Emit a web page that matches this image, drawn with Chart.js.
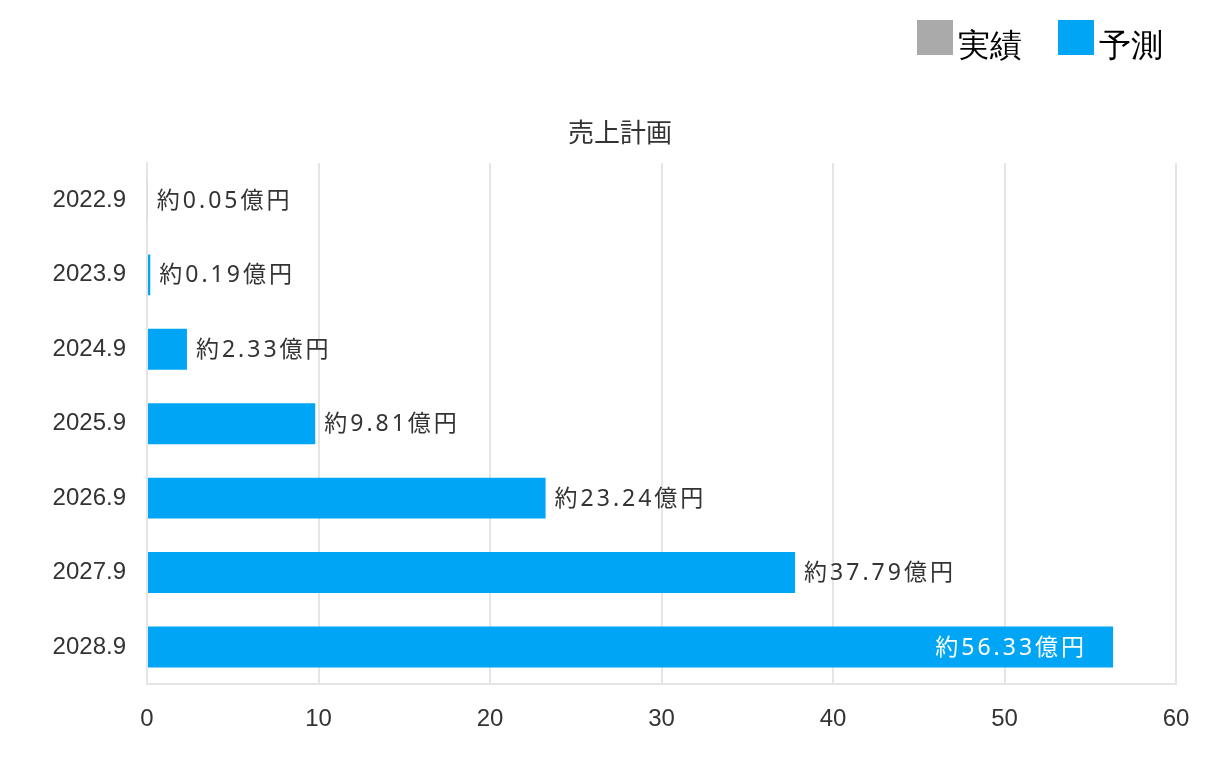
<!DOCTYPE html>
<html>
<head>
<meta charset="utf-8">
<script src="https://cdn.jsdelivr.net/npm/chart.js@4/dist/chart.umd.min.js"></script>
<style>
  html,body{margin:0;padding:0;background:#fff;}
  #wrap{position:relative;width:1231px;height:770px;}
  #legend{position:absolute;top:20px;left:917px;display:flex;align-items:flex-start;font-family:"Liberation Serif","DejaVu Serif",serif;font-size:32px;color:#000;}
  .item{display:flex;align-items:flex-start;margin-right:36px;}
  .box{width:36px;height:35px;margin-right:5px;}
  .item span{display:block;margin-top:7px;line-height:36px;}
</style>
</head>
<body>
<div id="wrap">
  <canvas id="c" width="1231" height="770"></canvas>
  <div id="legend"></div>
</div>
<script>
const categories = ["2022.9","2023.9","2024.9","2025.9","2026.9","2027.9","2028.9"];
const actualValues = [0.05, null, null, null, null, null, null];
const forecastValues = [null, 0.19, 2.33, 9.81, 23.24, 37.79, 56.33];
const seriesNames = ["実績","予測"];
const seriesColors = ["#aaaaaa","#00a6f5"];
const xTicks = [0,10,20,30,40,50,60];
const chartTitle = "売上計画";

// HTML legend
const leg = document.getElementById('legend');
seriesNames.forEach((n,i)=>{
  const it=document.createElement('div');it.className='item';
  const b=document.createElement('div');b.className='box';b.style.background=seriesColors[i];
  const t=document.createElement('span');t.textContent=n;
  it.appendChild(b);it.appendChild(t);leg.appendChild(it);
});

const labelPlugin = {
  id:'valueLabels',
  afterLayout(chart){
    // widen the y-axis label clip area so tick labels are not cut off
    chart.scales.y.left = 0;
  },
  afterDatasetsDraw(chart){
    const ctx=chart.ctx, area=chart.chartArea;
    ctx.save();
    ctx.font='23px "Noto Sans", "Noto Sans CJK JP", sans-serif';
    ctx.letterSpacing='3px';
    ctx.textBaseline='middle';
    chart.data.datasets.forEach((ds,di)=>{
      const meta=chart.getDatasetMeta(di);
      meta.data.forEach((bar,i)=>{
        const v=ds.data[i];
        if(v===null||v===undefined) return;
        const txt='約'+v.toFixed(2)+'億円';
        const w=ctx.measureText(txt).width;
        const y=bar.y+1;
        ctx.textAlign='left';
        if(bar.x+9+w>area.right){
          ctx.fillStyle='#ffffff';
          ctx.fillText(txt,bar.x-26-w,y);
        }else{
          ctx.fillStyle='#333333';
          ctx.fillText(txt,bar.x+9,y);
        }
      });
    });
    ctx.restore();
  }
};

new Chart(document.getElementById('c'),{
  type:'bar',
  data:{
    labels:categories,
    datasets:[
      {label:seriesNames[0],data:actualValues,backgroundColor:seriesColors[0],barPercentage:0.55,categoryPercentage:1},
      {label:seriesNames[1],data:forecastValues,backgroundColor:seriesColors[1],barPercentage:0.55,categoryPercentage:1}
    ]
  },
  options:{
    indexAxis:'y',
    responsive:false,
    animation:false,
    layout:{padding:{top:98,left:64,right:55,bottom:15}},
    plugins:{
      legend:{display:false},
      tooltip:{enabled:false},
      title:{display:true,text:chartTitle,color:'#333',
        font:{family:'"Noto Sans CJK JP", sans-serif',size:26,weight:'normal'},
        padding:{top:19,bottom:15}}
    },
    scales:{
      x:{
        stacked:true,min:0,max:60,
        afterBuildTicks(s){s.ticks=xTicks.map(v=>({value:v}));},
        grid:{color:'#e5e5e5',lineWidth:2,drawTicks:false},
        border:{color:'#e5e5e5',width:2},
        ticks:{color:'#333',padding:21,font:{family:'"Liberation Sans", Arial, sans-serif',size:24}}
      },
      y:{
        stacked:true,
        afterFit(s){s.width=83;},
        grid:{display:false,drawTicks:false},
        border:{display:true,color:'#e5e5e5',width:2},
        ticks:{color:'#333',padding:21,font:{family:'"Liberation Sans", Arial, sans-serif',size:24}}
      }
    }
  },
  plugins:[labelPlugin]
});
</script>
</body>
</html>
